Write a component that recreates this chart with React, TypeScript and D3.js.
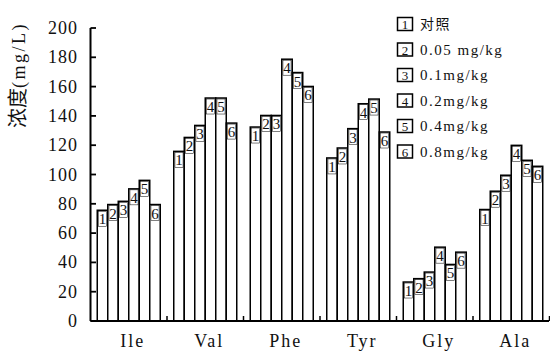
import React from "react";
import * as d3 from "d3";

const categories = ["Ile", "Val", "Phe", "Tyr", "Gly", "Ala"];
const seriesNames = ["对照", "0.05 mg/kg", "0.1mg/kg", "0.2mg/kg", "0.4mg/kg", "0.8mg/kg"];
const seriesIds = ["1", "2", "3", "4", "5", "6"];
// values[category][series]
const ileValues = [75.6, 79.5, 81.7, 90.2, 96, 79.5];
const valValues = [115.8, 125.3, 133.5, 152.2, 152.2, 135.1];
const pheValues = [132.4, 140.3, 140.3, 178.7, 169.6, 160.1];
const tyrValues = [111.3, 118.1, 131.3, 148.3, 151.5, 129.0];
const glyValues = [26.6, 28.9, 33.4, 50.4, 38.6, 47.0];
const alaValues = [76.1, 88.6, 99.5, 119.9, 109.7, 105.6];
const values = [ileValues, valValues, pheValues, tyrValues, glyValues, alaValues];
const yTicks = [0, 20, 40, 60, 80, 100, 120, 140, 160, 180, 200];

const W = 550;
const H = 352;
const SERIF = "Liberation Serif, DejaVu Serif, serif";
const CJK = "Noto Sans CJK SC, sans-serif";

export default function App() {
  const y = d3.scaleLinear().domain([0, 200]).range([321, 28]);
  const x0 = d3.scaleBand<string>().domain(categories).range([90.5, 549.5]).padding(0);
  const x1 = d3
    .scaleBand<string>()
    .domain(seriesIds)
    .range([0, x0.bandwidth()])
    .paddingInner(0)
    .paddingOuter(0.643);
  const bw = x1.bandwidth();
  const y0 = y(0);

  return (
    <svg
      width={W}
      height={H}
      style={{ position: "absolute", left: 0, top: 0, background: "#fff" }}
    >
      <rect x={0} y={0} width={W} height={H} fill="#fff" />
      {/* bars */}
      {categories.map((c, ci) => (
        <g key={c} transform={`translate(${x0(c)},0)`}>
          {seriesIds.map((s, si) => {
            const v = values[ci][si];
            const bx = x1(s)!;
            const by = y(v);
            return (
              <g key={s}>
                <rect
                  x={bx}
                  y={by}
                  width={bw}
                  height={y0 - by}
                  fill="#fff"
                  stroke="#000"
                  strokeWidth={1.5}
                />
                <rect
                  x={bx + 1.2}
                  y={by + 1}
                  width={bw - 2.4}
                  height={15}
                  fill="none"
                  stroke="#000"
                  strokeWidth={0.5}
                />
                <text
                  x={bx + bw / 2}
                  y={by + 14}
                  textAnchor="middle"
                  fontFamily={SERIF}
                  fontSize={15}
                  fill="#111"
                >
                  {s}
                </text>
              </g>
            );
          })}
        </g>
      ))}
      {/* x axis */}
      <line x1={90.5} x2={549} y1={y0} y2={y0} stroke="#000" strokeWidth={2} />
      {categories.map((c) => (
        <line
          key={"sep" + c}
          x1={x0(c)! + x0.bandwidth()}
          x2={x0(c)! + x0.bandwidth()}
          y1={y0}
          y2={y0 - 5}
          stroke="#000"
          strokeWidth={1.5}
        />
      ))}
      {categories.map((c) => (
        <text
          key={"lab" + c}
          x={x0(c)! + x0.bandwidth() / 2 + 4}
          y={347}
          textAnchor="middle"
          fontFamily={SERIF}
          fontSize={18}
          letterSpacing={2}
          fill="#111"
        >
          {c}
        </text>
      ))}
      {/* y axis */}
      <line x1={90.5} x2={90.5} y1={y(200)} y2={y0} stroke="#000" strokeWidth={2} />
      {yTicks.map((t) => (
        <g key={"yt" + t}>
          <line x1={90.5} x2={96} y1={y(t)} y2={y(t)} stroke="#000" strokeWidth={1.8} />
          <text
            x={78}
            y={y(t) + 6}
            textAnchor="end"
            fontFamily={SERIF}
            fontSize={18}
            letterSpacing={1}
            fill="#111"
          >
            {t}
          </text>
        </g>
      ))}
      {/* y title */}
      <text
        transform="translate(25,75) rotate(-90)"
        textAnchor="middle"
        fontSize={20}
        fill="#111"
      >
        <tspan fontFamily={CJK}>浓度</tspan>
        <tspan fontFamily={SERIF} fontSize={18} letterSpacing={2.5}>(mg/L)</tspan>
      </text>
      {/* legend */}
      {seriesNames.map((n, i) => {
        const cy = 24 + i * 25.5;
        return (
          <g key={"lg" + i}>
            <rect
              x={397.5}
              y={cy - 6.5}
              width={15}
              height={13}
              fill="#fff"
              stroke="#000"
              strokeWidth={1.5}
            />
            <text
              x={405}
              y={cy + 5}
              textAnchor="middle"
              fontFamily={SERIF}
              fontSize={13}
              fill="#111"
            >
              {seriesIds[i]}
            </text>
            <text
              x={420}
              y={cy + 5}
              fontFamily={i === 0 ? CJK : SERIF}
              fontSize={i === 0 ? 14 : 15}
              letterSpacing={1.5}
              fill="#111"
            >
              {n}
            </text>
          </g>
        );
      })}
    </svg>
  );
}
